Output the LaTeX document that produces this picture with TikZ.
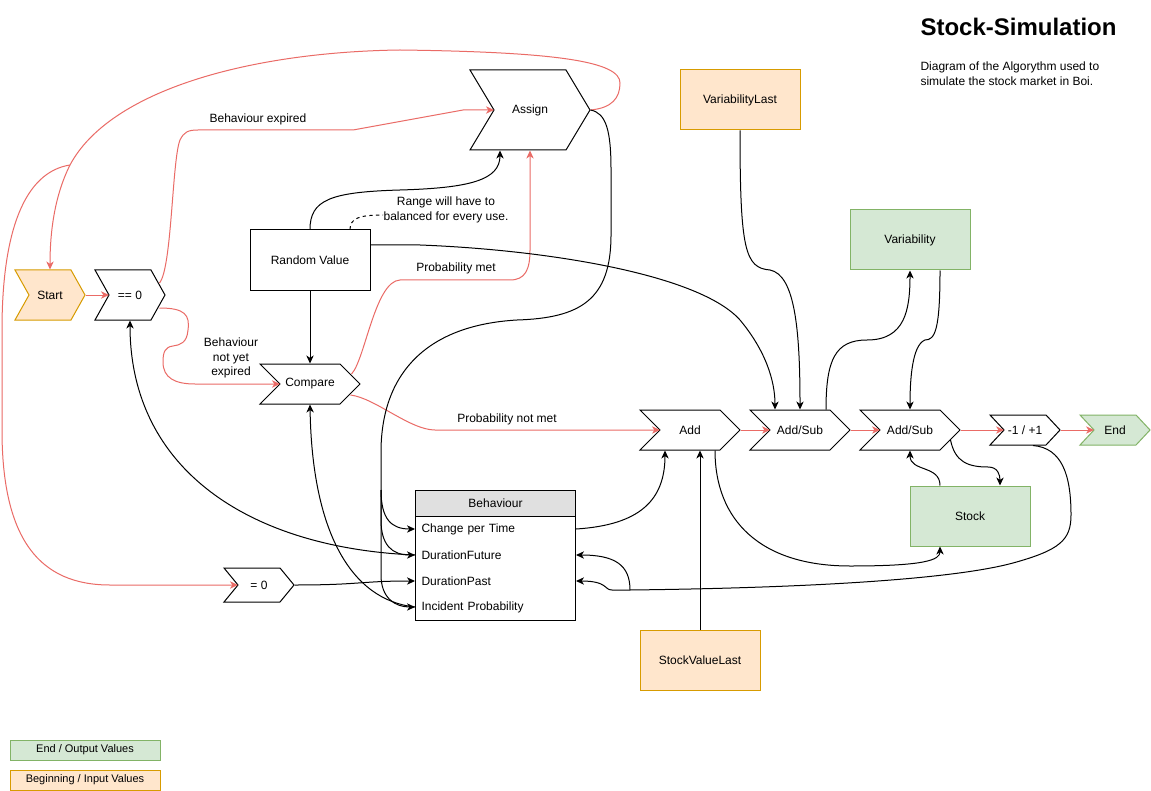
\documentclass[tikz,border=0pt]{standalone}
\usepackage{fontspec}
\setmainfont{Liberation Sans}
\usetikzlibrary{arrows.meta,calc}
\definecolor{redc}{HTML}{EA6B66}
\definecolor{orf}{HTML}{FFE6CC}
\definecolor{ord}{HTML}{D79B00}
\definecolor{grf}{HTML}{D5E8D4}
\definecolor{grd}{HTML}{82B366}
\definecolor{hdr}{HTML}{E0E0E0}
% name, cx, cy, w, h, d, style, text
\newcommand{\chev}[8]{%
  \draw[#7] (#2-#4/2,#3-#5/2) -- (#2+#4/2-#6,#3-#5/2) -- (#2+#4/2,#3) -- (#2+#4/2-#6,#3+#5/2) -- (#2-#4/2,#3+#5/2) -- (#2-#4/2+#6,#3) -- cycle;
  \node[inner sep=0, minimum width=#4*0.75pt, minimum height=#5*0.75pt] (#1) at (#2,#3) {#8};
  \coordinate (#1-in) at (#2-#4/2+#6,#3);
}
\begin{document}
\begin{tikzpicture}[x=0.75pt,y=-0.75pt,line width=0.75pt,
  font=\fontsize{9}{11}\selectfont,
  >={Stealth[length=6pt,width=5.5pt,inset=1.8pt]},
  bx/.style={draw, minimum width=90pt, minimum height=45pt, inner sep=0},
  inbox/.style={bx, fill=orf, draw=ord},
  outbox/.style={bx, fill=grf, draw=grd},
  bl/.style={->},
  rd/.style={draw=redc,->},
  lbl/.style={inner sep=0, align=center, font=\fontsize{9}{10.9}\selectfont},
  rowst/.style={inner xsep=4.5pt, inner ysep=0, text width=111pt, align=left, minimum height=19.5pt, anchor=west},
  leg/.style={draw, minimum width=112.5pt, minimum height=15pt, inner sep=0, font=\fontsize{8.25}{10}\selectfont}
]
\path[fill=white] (0,0) rectangle (1151,791);
\useasboundingbox (0,0) rectangle (1151,791);

% chevrons
\chev{start}{50}{295}{70}{50}{14}{draw=ord,fill=orf}{Start}
\chev{eqz}{130}{295}{70}{50}{14}{draw}{== 0}
\chev{assign}{530}{110}{120}{80}{24}{draw}{Assign}
\chev{compare}{310}{384}{100}{40}{20}{draw}{Compare}
\chev{setz}{259}{585}{70}{34}{14}{draw}{= 0}
\chev{add}{690}{430}{100}{40}{20}{draw}{Add}
\chev{as1}{800}{430}{100}{40}{20}{draw}{Add/Sub}
\chev{as2}{910}{430}{100}{40}{20}{draw}{Add/Sub}
\chev{sign}{1025}{430}{70}{30}{14}{draw}{-1 / +1}
\chev{endn}{1115}{430}{70}{30}{14}{draw=grd,fill=grf}{End}

% boxes
\node[bx] (rv) at (310,260) {Random Value};
\node[inbox] (vl) at (740,100) {VariabilityLast};
\node[outbox] (var) at (910,240) {Variability};
\node[outbox] (stock) at (970,516) {Stock};
\node[inbox] (svl) at (700,660) {StockValueLast};

% table
\node[draw, fill=hdr, minimum width=120pt, minimum height=19.5pt, inner sep=0, anchor=north west] (beh) at (415,490) {Behaviour};
\draw (415,516) rectangle (575,620);
\node[rowst] (cpt) at (415,529) {Change per Time};
\node[rowst] (df) at (415,555) {DurationFuture};
\node[rowst] (dp) at (415,581) {DurationPast};
\node[rowst] (ip) at (415,607) {Incident Probability};

% title
\node[anchor=base west, inner sep=0, font=\bfseries\fontsize{18}{21}\selectfont] (title) at (920,36) {Stock-Simulation};
\node[anchor=north west, inner sep=0, align=left, font=\fontsize{9}{11.25}\selectfont] (desc) at (920,61) {Diagram of the Algorythm used to\\simulate the stock market in Boi.};

% legend
\node[leg, fill=grf, draw=grd] (lg1) at (85,750) {End / Output Values};
\node[leg, fill=orf, draw=ord] (lg2) at (85,780) {Beginning / Input Values};

% labels
\node[lbl] (l1) at (258,119) {Behaviour expired};
\node[lbl] (l2) at (231,358) {Behaviour\\not yet\\expired};
\node[lbl] (l3) at (456,268) {Probability met};
\node[lbl] (l4) at (507,419) {Probability not met};
\node[lbl, font=\fontsize{9}{11.25}\selectfont] (l5) at (446,210) {Range will have to\\balanced for every use.};

% red flow
\draw[rd] (start.east) -- (eqz-in);
\draw[rd] ([shift={(-6,-12)}]eqz.east) .. controls (172,268) and (172,160) .. (180,140) .. controls (184,132) and (188,130) .. (198,130) -- (353,130) -- (463,110) -- (assign-in);
\draw[rd] ([shift={(-6,13)}]eqz.east) .. controls (185,308) and (190,315) .. (188,330) .. controls (187,343) and (180,345) .. (173,346) .. controls (165,347) and (163,352) .. (163,362) .. controls (163,378) and (175,384) .. (195,384) -- (compare-in);
\draw[rd] ([shift={(-9,-10)}]compare.east) .. controls (365,360) and (375,281) .. (400,280) -- (510,280) .. controls (525,280) and (530,270) .. (530,250) -- (assign.south);
\draw[rd] ([shift={(-10,11)}]compare.east) .. controls (375,398) and (410,430) .. (435,430) -- (add-in);
\draw[rd] (assign.east) .. controls (612,108) and (620,98) .. (620,83) .. controls (620,62) and (560,52) .. (400,50) .. controls (250,52) and (110,90) .. (70,165) coordinate (split) .. controls (55,195) and (50,230) .. (start.north);
\draw[rd] (split) .. controls (25,172) and (2,230) .. (2,330) -- (2,430) .. controls (2,540) and (40,585) .. (110,585) -- (setz-in);
\draw[rd] (add.east) -- (as1-in);
\draw[rd] (as1.east) -- (as2-in);
\draw[rd] (as2.east) -- (sign-in);
\draw[rd] (sign.east) -- (endn-in);

% black connectors
\draw[bl] (rv.south) -- (compare.north);
\draw[bl] (rv.north) .. controls (310,200) and (330,192) .. (400,190) .. controls (470,188) and (500,180) .. ([shift={(-30,0)}]assign.south);
\draw[dashed, dash pattern=on 2.5pt off 2.5pt] ([shift={(40,0)}]rv.north) .. controls (350,218) and (360,215) .. ([shift={(0,5)}]l5.west);
\draw[bl] ([shift={(0,-15)}]rv.east) -- (420,245) .. controls (550,250) and (700,275) .. (740,320) .. controls (765,350) and (775,380) .. ([shift={(-25,0)}]as1.north);
\draw[bl] (vl.south) .. controls (740,250) and (745,268) .. (770,270) .. controls (795,275) and (800,330) .. (as1.north);
\draw[bl] ([shift={(26,0)}]as1.north) .. controls (826,360) and (835,340) .. (867,340) .. controls (905,340) and (910,310) .. (var.south);
\draw[bl] ([shift={(30,0)}]var.south) .. controls (940,330) and (935,340) .. (925,340) .. controls (912,345) and (910,380) .. (as2.north);
\draw[bl] (cpt.east) .. controls (640,525) and (665,500) .. ([shift={(-25,0)}]add.south);
\draw[bl] (svl.north) -- ([shift={(10,0)}]add.south);
\draw[bl] ([shift={(25,0)}]add.south) .. controls (715,520) and (760,566) .. (850,566) .. controls (925,566) and (940,560) .. ([shift={(-30,0)}]stock.south);
\draw[bl] ([shift={(-30,0)}]stock.north) .. controls (940,465) and (910,472) .. (as2.south);
\draw[bl] ([shift={(-10,10)}]as2.east) .. controls (955,462) and (968,467) .. (988,467) .. controls (998,467) and (1000,475) .. ([shift={(30,0)}]stock.north);
\draw[bl] ([shift={(8,0)}]sign.south) .. controls (1062,448) and (1071,475) .. (1071,515) .. controls (1071,540) and (1060,550) .. (1013,563) .. controls (950,580) and (800,588) .. (630,590) coordinate (br) -- (612,590) .. controls (604,590) and (608,581) .. (dp.east);
\draw[bl] (br) .. controls (630,565) and (615,555) .. (df.east);
\draw[bl] (setz.east) .. controls (360,585) and (360,581) .. (dp.west);
\draw (assign.east) .. controls (606,113) and (611,130) .. (611,170) -- (611,235) .. controls (611,300) and (580,318) .. (517,320) .. controls (430,325) and (382,370) .. (381,450) -- (381,490) coordinate (tr);
\draw[bl] (tr) .. controls (381,520) and (392,529) .. (cpt.west);
\draw[bl] (tr) -- (381,520) .. controls (381,545) and (392,555) .. (df.west);
\draw[bl] (tr) -- (381,575) .. controls (381,598) and (395,607) .. (ip.west);
\draw[bl] (ip.west) .. controls (350,600) and (312,530) .. (compare.south);
\draw[bl] (df.west) .. controls (250,548) and (130,470) .. (eqz.south);
\end{tikzpicture}
\end{document}
